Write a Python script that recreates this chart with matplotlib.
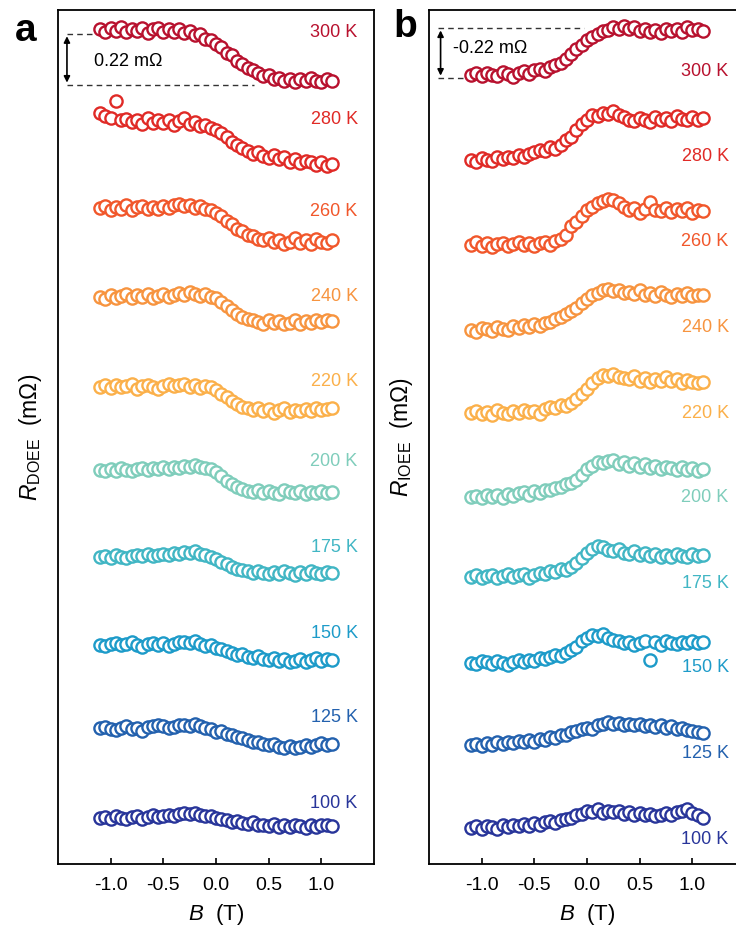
import numpy as np
import matplotlib
matplotlib.use("Agg")
from matplotlib import pyplot as plt

plt.rcParams['font.family'] = ['Liberation Sans', 'DejaVu Sans']
plt.rcParams['mathtext.fontset'] = 'custom'
plt.rcParams['mathtext.rm'] = 'Liberation Sans'
plt.rcParams['mathtext.it'] = 'Liberation Sans:italic'
plt.rcParams['axes.unicode_minus'] = False

# temperatures, top to bottom
temps = ['300 K', '280 K', '260 K', '240 K', '220 K', '200 K', '175 K', '150 K', '125 K', '100 K']
colors = ['#B8112E', '#E02A26', '#F1572B', '#F7943F', '#FBB04A',
          '#7FCDBB', '#41B6C4', '#1D9BC9', '#2361AE', '#28359A']

# field sweep from -1.1 T to 1.1 T (one value every 0.05 T)
# signals in micro-ohm, relative to the low-field (negative B) level
doee = {
    '300 K': [5, -8, 10, -3, 12, -10, 4, -6, 8, -12, 2, 9, -7, 5, -10, 3, -12, -5, -22, -18,
              -38, -45, -62, -75, -98, -110, -135, -145, -165, -172, -185, -200, -195, -212, -205,
              -222, -210, -225, -212, -220, -205, -218, -225, -210, -220],
    '280 K': [0, -12, -20, 50, -30, -25, -40, -32, -48, -20, -42, -30, -45, -28, -50, -35, -22, -48, -40, -58,
              -52, -66, -72, -88, -102, -125, -140, -152, -165, -178, -170, -185, -192, -182, -200,
              -190, -210, -198, -215, -205, -212, -222, -210, -228, -218],
    '260 K': [0, 8, -10, 5, -5, 12, -8, 3, 10, -6, 6, -4, 8, -2, 12, 15, 8, 14, 0, 10,
              -5, -10, -20, -35, -55, -70, -90, -100, -115, -122, -135, -140, -130, -148, -138,
              -155, -145, -128, -150, -140, -155, -132, -145, -150, -140],
    '240 K': [0, -8, 10, -5, 6, 15, -3, 8, 0, 12, -6, 5, 14, 2, 10, 18, 8, 20, 12, 5,
              15, 2, -5, -20, -40, -55, -72, -85, -95, -100, -108, -115, -100, -112, -105,
              -118, -110, -100, -115, -105, -112, -98, -108, -100, -105],
    '220 K': [0, 8, -6, 10, -2, 5, 12, -8, 4, 10, 0, -10, 6, 12, 3, 8, 15, 2, 10, -4,
              6, 0, -15, -28, -45, -60, -72, -85, -90, -98, -92, -105, -95, -110, -100,
              -92, -108, -98, -105, -95, -102, -90, -100, -95, -92],
    '200 K': [0, -6, 5, -3, 8, 2, -5, 6, 10, 0, 8, 3, 12, 6, 15, 10, 18, 12, 20, 14,
              10, 5, -10, -25, -45, -60, -75, -80, -90, -95, -85, -100, -92, -98, -105,
              -88, -95, -100, -90, -102, -95, -98, -90, -100, -95],
    '175 K': [0, 5, -4, 8, 2, -6, 6, 10, 3, 12, 5, 8, 15, 10, 18, 14, 22, 18, 25, 15,
              8, 0, -10, -20, -30, -42, -50, -55, -62, -68, -58, -70, -75, -65, -72,
              -60, -70, -78, -66, -72, -62, -70, -75, -65, -68],
    '150 K': [0, -5, 6, 10, -2, 4, 12, 0, -8, 5, 8, 2, 10, -4, 6, 12, 15, 8, 18, 5,
              -5, 0, -12, -18, -28, -35, -45, -40, -52, -55, -48, -60, -65, -58, -70,
              -62, -75, -68, -60, -72, -65, -58, -70, -62, -66],
    '125 K': [0, 5, -6, -10, 2, 8, -4, 0, -12, 6, 10, 14, 8, 2, 5, 12, 15, 10, 18, 8,
              0, -5, -15, -12, -25, -30, -38, -45, -50, -58, -62, -70, -75, -68, -80,
              -85, -78, -88, -80, -72, -82, -75, -65, -72, -68],
    '100 K': [0, 6, -5, 8, 2, -4, 5, 10, -2, 6, 12, 4, 8, 15, 10, 18, 22, 16, 20, 12,
              8, 10, 2, -5, -10, -15, -12, -20, -25, -18, -30, -28, -35, -25, -40,
              -32, -38, -28, -35, -42, -30, -38, -32, -28, -35],
}

ioee = {
    '300 K': [0, 8, -6, 10, 2, -5, 12, 4, -8, 10, 15, 5, 20, 25, 18, 35, 45, 50, 70, 90,
              110, 130, 150, 165, 175, 190, 195, 205, 200, 212, 198, 205, 190, 200, 185,
              195, 182, 198, 188, 200, 185, 205, 192, 198, 190],
    '280 K': [0, -8, 10, 2, -5, 12, 5, 15, 8, 20, 12, 25, 35, 45, 40, 55, 50, 65, 85, 100,
              130, 155, 175, 195, 190, 205, 198, 210, 195, 185, 175, 168, 180, 172, 165,
              185, 175, 180, 170, 188, 178, 175, 185, 172, 180],
    '260 K': [0, 12, -5, 8, -10, 5, 10, -3, 6, 15, 0, 10, -5, 8, 14, 2, 18, 25, 45, 80,
              100, 125, 150, 165, 180, 190, 200, 195, 180, 165, 150, 160, 140, 155, 185,
              150, 145, 160, 142, 155, 148, 160, 140, 152, 145],
    '240 K': [0, -8, 10, 3, -5, 12, 6, -2, 15, 8, 20, 12, 25, 18, 30, 35, 45, 55, 70, 80,
              95, 115, 135, 150, 160, 170, 175, 168, 172, 160, 165, 155, 170, 150, 158,
              145, 162, 150, 140, 155, 148, 160, 145, 152, 150],
    '220 K': [0, 10, -5, 6, -8, 12, 2, -6, 8, 0, 14, 5, 10, -3, 18, 25, 20, 35, 30, 45,
              60, 80, 105, 130, 150, 165, 160, 170, 155, 150, 145, 160, 140, 150, 135,
              148, 140, 155, 138, 145, 130, 142, 135, 128, 135],
    '200 K': [0, 5, -6, 8, 2, 10, -4, 12, 6, 15, 20, 8, 25, 15, 30, 28, 40, 45, 55, 60,
              75, 95, 120, 135, 150, 145, 155, 160, 140, 150, 135, 145, 130, 140, 125,
              135, 120, 130, 125, 115, 128, 118, 125, 110, 120],
    '175 K': [0, 8, -5, 4, 10, -3, 6, 12, 0, 8, 15, -5, 10, 18, 12, 25, 20, 35, 30, 45,
              60, 80, 105, 120, 135, 128, 115, 110, 120, 105, 100, 110, 95, 105, 90,
              100, 85, 95, 88, 100, 92, 85, 98, 90, 95],
    '150 K': [0, -6, 8, 3, -4, 10, 2, -8, 6, 12, 5, 15, 8, 20, 18, 25, 35, 30, 45, 55,
              70, 95, 110, 120, 115, 125, 110, 100, 95, 85, 90, 80, 85, 95, 15,
              90, 78, 95, 88, 82, 92, 85, 95, 88, 90],
    '125 K': [0, 6, -5, 10, 2, 12, 5, 15, 8, 18, 12, 20, 15, 25, 22, 35, 30, 42, 45, 55,
              60, 68, 75, 70, 85, 92, 98, 90, 95, 88, 92, 85, 90, 80, 88,
              78, 85, 75, 80, 70, 72, 65, 60, 55, 50],
    '100 K': [0, 8, -6, 10, 4, -3, 12, 6, 15, 8, 18, 10, 20, 15, 25, 30, 22, 35, 40, 45,
              55, 60, 75, 70, 80, 65, 72, 68, 75, 62, 70, 58, 65, 55, 62,
              50, 58, 65, 55, 70, 75, 80, 65, 55, 45],
}

# vertical offsets of each curve (mOhm)
offset_a = [3.595, 3.237, 2.828, 2.444, 2.056, 1.698, 1.323, 0.944, 0.586, 0.198]
offset_b = [3.401, 3.034, 2.668, 2.302, 1.944, 1.582, 1.237, 0.866, 0.513, 0.155]

# label heights (pixels from top of the picture)
label_px_a = [33, 120, 212, 297, 382, 462, 548, 633, 718, 803]
label_px_b = [72, 157, 242, 328, 413, 498, 583, 668, 753, 840]

W, H = 736, 931
fig = plt.figure(figsize=(W / 100, H / 100), dpi=100)
top_px, bot_px = 10, 864
ymax = (bot_px - top_px) / 232.0
axa = fig.add_axes([58 / W, 1 - bot_px / H, 316 / W, (bot_px - top_px) / H])
axb = fig.add_axes([429 / W, 1 - bot_px / H, 316 / W, (bot_px - top_px) / H])


def draw(ax, data, offsets, label_px):
    for i, t in enumerate(temps):
        vals = np.array(data[t]) / 1000.0
        B = np.linspace(-1.1, 1.1, len(vals))
        ax.plot(B, vals + offsets[i], 'o', ls='none', ms=8.8, mfc='white',
                mec=colors[i], mew=1.7)
        ax.text(1.345, (bot_px - label_px[i]) / 232.0, t, color=colors[i],
                ha='right', va='center', fontsize=13)
    ax.set_xlim(-1.5, 1.5)
    ax.set_ylim(0, ymax)
    ax.set_xticks([-1.0, -0.5, 0.0, 0.5, 1.0])
    ax.set_xticklabels(['-1.0', '-0.5', '0.0', '0.5', '1.0'])
    ax.set_yticks([])
    ax.tick_params(axis='x', direction='in', length=4, width=1.2, labelsize=14, pad=9)
    for s in ax.spines.values():
        s.set_linewidth(1.3)
    ax.set_xlabel('$\\mathit{B}$  (T)', fontsize=16, labelpad=6)


draw(axa, doee, offset_a, label_px_a)
draw(axb, ioee, offset_b, label_px_b)

axa.set_ylabel('$\\mathit{R}_{\\mathrm{DOEE}}$  (mΩ)', fontsize=16.5, labelpad=10)
axb.set_ylabel('$\\mathit{R}_{\\mathrm{IOEE}}$  (mΩ)', fontsize=16.5, labelpad=10)

# scale bars
dash = dict(color='#333333', lw=1.0, ls=(0, (4, 3)))
axa.plot([-1.41, -1.18], [3.578, 3.578], **dash)
axa.plot([-1.41, 0.36], [3.358, 3.358], **dash)
axa.annotate('', xy=(-1.415, 3.368), xytext=(-1.415, 3.568),
             arrowprops=dict(arrowstyle='<|-|>', color='black', lw=1.2,
                             mutation_scale=9, shrinkA=0, shrinkB=0))
axa.text(-1.155, 3.457, '0.22 mΩ', fontsize=13, ha='left', va='center')

axb.plot([-1.41, -0.03], [3.603, 3.603], **dash)
axb.plot([-1.41, -1.17], [3.388, 3.388], **dash)
axb.annotate('', xy=(-1.39, 3.398), xytext=(-1.39, 3.593),
             arrowprops=dict(arrowstyle='<|-|>', color='black', lw=1.2,
                             mutation_scale=9, shrinkA=0, shrinkB=0))
axb.text(-1.27, 3.513, '-0.22 mΩ', fontsize=13, ha='left', va='center')

fig.text(15 / W, 1 - 31 / H, 'a', fontsize=28, fontweight='bold', va='center', ha='left')
fig.text(393 / W, 1 - 27 / H, 'b', fontsize=28, fontweight='bold', va='center', ha='left')

fig.savefig('out.png', dpi=100)
